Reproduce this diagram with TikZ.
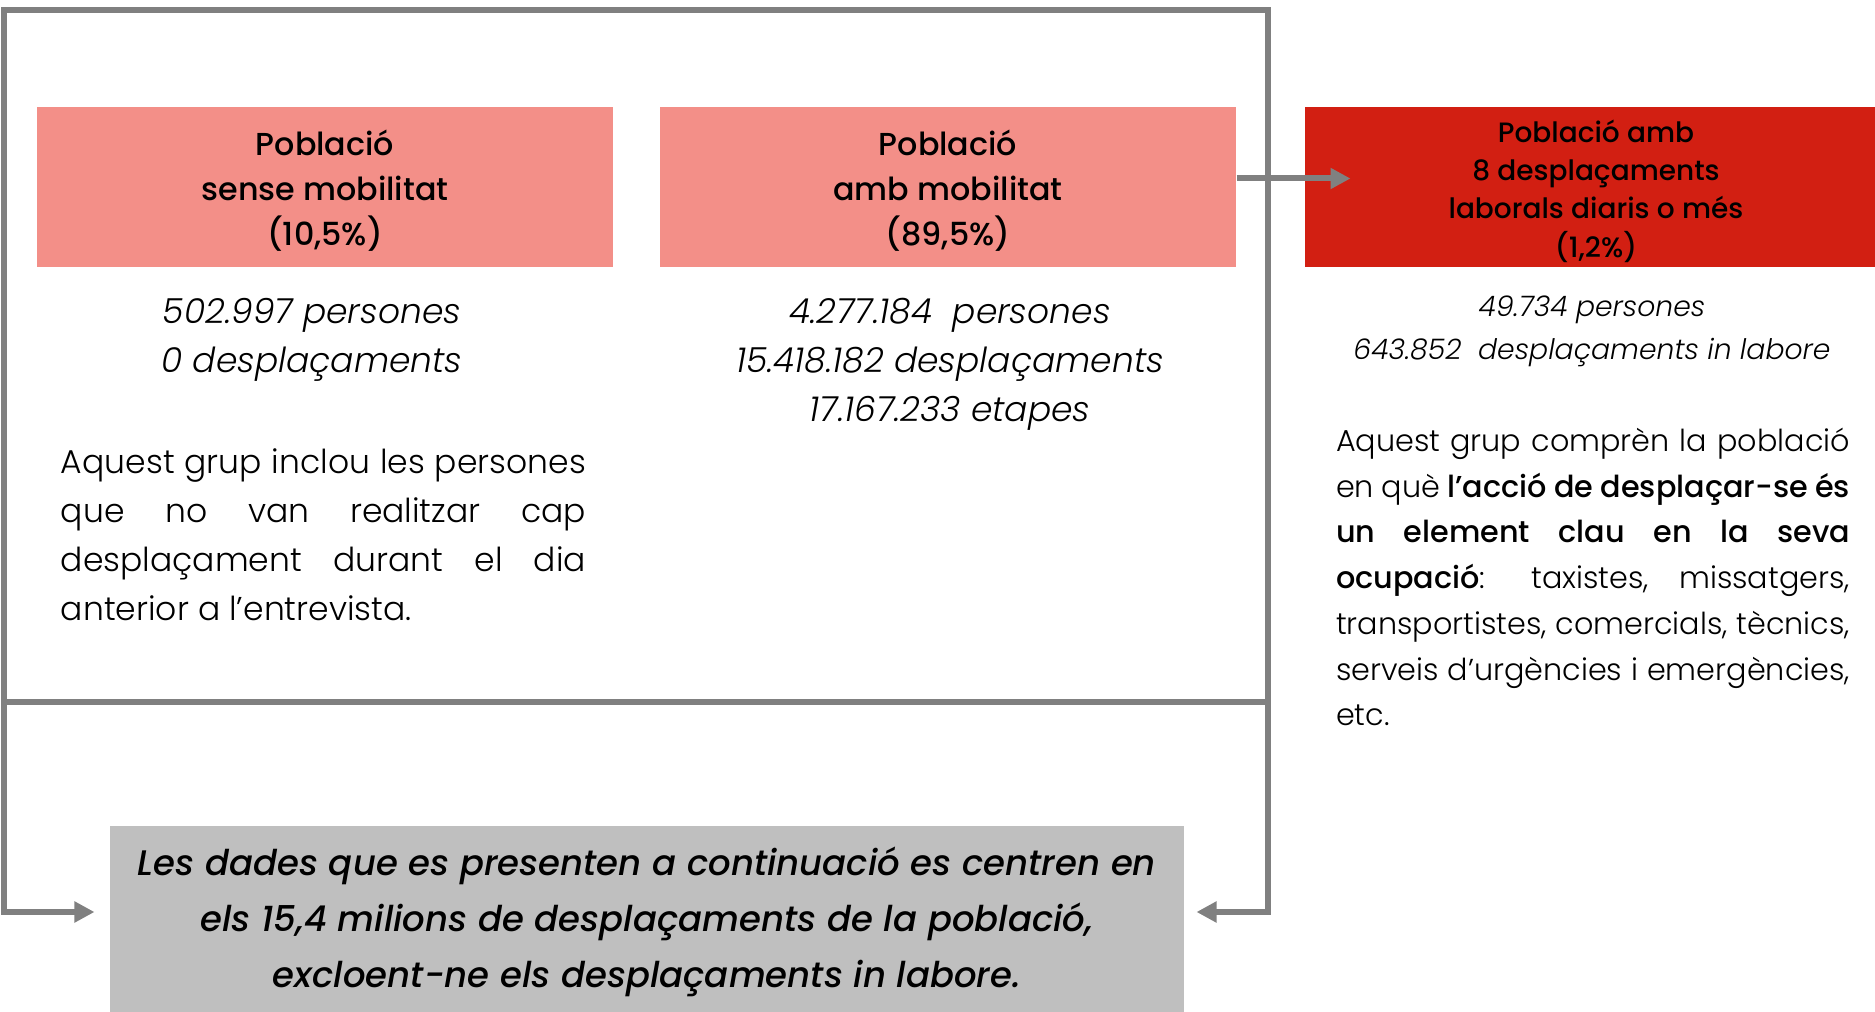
\documentclass[tikz,border=0pt]{standalone}
\usepackage{fontspec}
\setmainfont{Poppins}
\IfFontExistsTF{Poppins Light}{\newfontfamily\fbook{Poppins Light}}{\newfontfamily\fbook{Poppins}}
\IfFontExistsTF{Poppins Light Italic}{\newfontfamily\fbookit{Poppins Light Italic}}{\newfontfamily\fbookit{Poppins}[FakeSlant=0.2]}
\IfFontExistsTF{Poppins Medium}{\newfontfamily\fmed{Poppins Medium}}{\newfontfamily\fmed{Poppins}}
\IfFontExistsTF{Poppins Medium Italic}{\newfontfamily\fmedit{Poppins Medium Italic}}{\newfontfamily\fmedit{Poppins}[FakeSlant=0.2]}
\usetikzlibrary{arrows.meta}
\definecolor{pinkc}{HTML}{F38F88}
\definecolor{redc}{HTML}{D21F12}
\definecolor{linec}{HTML}{808080}
\definecolor{greyc}{HTML}{BFBFBF}
\hyphenpenalty=10000
\exhyphenpenalty=10000
\begin{document}
\begin{tikzpicture}[x=0.4pt,y=-0.4pt,
  hdr/.style={fill=pinkc, minimum width=230.4pt, minimum height=64pt, inner sep=0pt},
  redhdr/.style={fill=redc, minimum width=228pt, minimum height=64pt, inner sep=0pt},
  hdrtxt/.style={inner sep=0pt, align=center, font=\fmed\fontsize{12.7}{18}\selectfont},
  redtxt/.style={inner sep=0pt, align=center, font=\fmed\fontsize{11.2}{15.3}\selectfont},
  stat/.style={align=center, inner sep=0pt, font=\fbookit\fontsize{13.8}{19.6}\selectfont},
  statsm/.style={align=center, inner sep=0pt, font=\fbookit\fontsize{11.3}{17.2}\selectfont},
  paraA/.style={text width=210pt, align=justify, inner sep=0pt, font=\fbook\fontsize{13.2}{19.6}\selectfont},
  paraB/.style={text width=205.6pt, align=justify, inner sep=0pt, font=\fbook\fontsize{12.1}{18.3}\selectfont},
  framebox/.style={draw=linec, line width=2.4pt, minimum width=505.6pt, minimum height=276.8pt, inner sep=0pt, outer sep=0pt},
  note/.style={fill=greyc, minimum width=429.6pt, minimum height=74.4pt, inner sep=0pt},
  notetxt/.style={inner sep=0pt, align=center, font=\fmedit\fontsize{14.2}{22.4}\selectfont},
  conn/.style={draw=linec, line width=2.4pt, -{Triangle[length=8pt,width=8pt]}}
]
\useasboundingbox (0,0) rectangle (1875,1012);

\node[framebox] (fr) at (636,356) {};

\node[hdr] (b1) at (325,187) {};
\node[hdrtxt] (t1) at (325,191) {Població\\sense mobilitat\\(10,5\%)};
\node[hdr] (b2) at (948,187) {};
\node[hdrtxt] (t2) at (948,191) {Població\\amb mobilitat\\(89,5\%)};
\node[redhdr] (b3) at (1590,187) {};
\node[redtxt] (t3) at (1596,191) {Població amb\\8 desplaçaments\\laborals diaris o més\\(1,2\%)};

\node[stat] (s1) at (312,340) {502.997 persones\\0 desplaçaments};
\node[stat] (s2) at (950,364) {4.277.184\ \ persones\\15.418.182 desplaçaments\\17.167.233 etapes};
\node[statsm] (s3) at (1592,331) {49.734 persones\\643.852\ \ desplaçaments in labore};

\node[paraA] (p1) at (323.5,535) {Aquest grup inclou les persones\linebreak que no van realitzar cap\linebreak desplaçament durant el dia\linebreak anterior a l’entrevista.};

\node[paraB] (p3) at (1593,577) {Aquest grup comprèn la població\linebreak en què {\fmed l’acció de desplaçar-se és\linebreak un element clau en la seva\linebreak ocupació}: taxistes, missatgers,\linebreak transportistes, comercials, tècnics,\linebreak serveis d’urgències i emergències,\linebreak etc.};

\node[note] (nt) at (647,919) {};
\node[notetxt] (ntt) at (647,922) {Les dades que es presenten a continuació es centren en\\els 15,4 milions de desplaçaments de la població,\\excloent-ne els desplaçaments in labore.};

\draw[conn] ([yshift=3.4pt]b2.east) -- ([yshift=3.4pt,xshift=18.4pt]b3.west);
\draw[conn] (fr.south west) |- ([yshift=2.8pt,xshift=-6pt]nt.west);
\draw[conn] (fr.south east) |- ([yshift=2.8pt,xshift=4.8pt]nt.east);
\end{tikzpicture}
\end{document}
